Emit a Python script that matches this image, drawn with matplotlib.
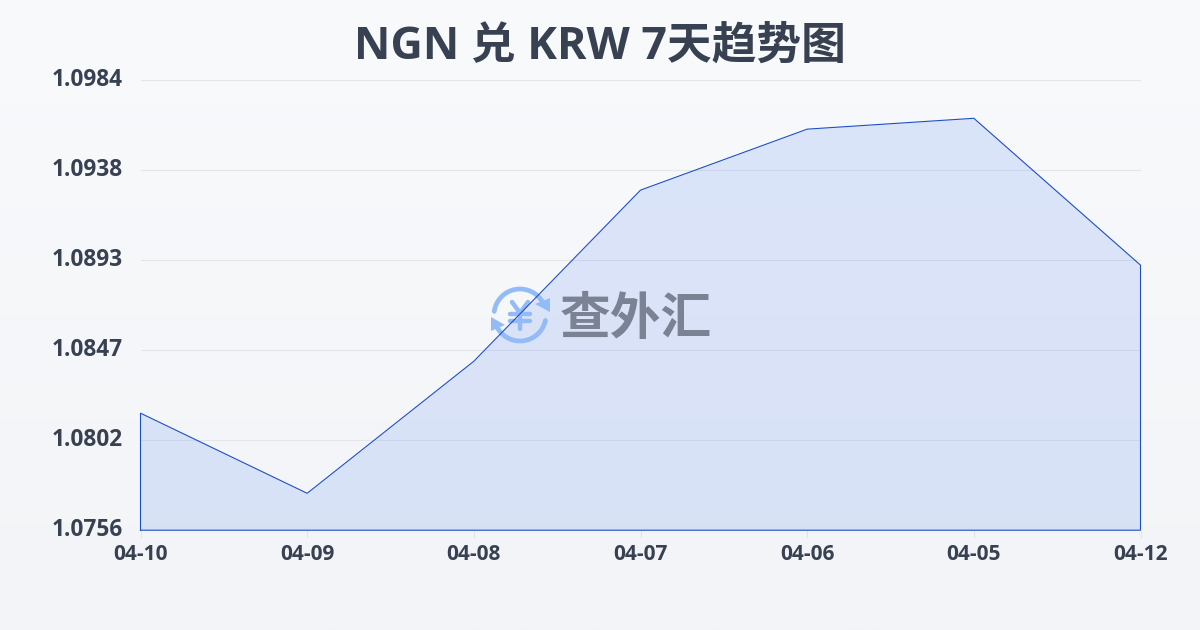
import matplotlib
matplotlib.use("Agg")
import matplotlib.pyplot as plt
from matplotlib.patches import Polygon
from matplotlib.transforms import Affine2D
import numpy as np

plt.rcParams['font.family'] = ['Open Sans', 'Noto Sans CJK SC', 'DejaVu Sans']

dates = ['04-10', '04-09', '04-08', '04-07', '04-06', '04-05', '04-12']
rates = [1.08153, 1.07747, 1.08416, 1.09283, 1.09592, 1.09647, 1.08903]
y_ticks = [1.0756, 1.08016, 1.08472, 1.08928, 1.09384, 1.0984]
y_labels = ['1.0756', '1.0802', '1.0847', '1.0893', '1.0938', '1.0984']
title = 'NGN 兑 KRW 7天趋势图'

W, H = 1200, 630
fig = plt.figure(figsize=(W / 100, H / 100), dpi=100)

# page background, light vertical gradient
bg = fig.add_axes([0, 0, 1, 1], zorder=0)
bg.axis('off')
c1 = np.array(matplotlib.colors.to_rgb('#f8fafc'))
c2 = np.array(matplotlib.colors.to_rgb('#f2f4f7'))
t = np.linspace(0, 1, 256)[:, None, None]
bg.imshow(c1 + (c2 - c1) * t, aspect='auto', extent=[0, 1, 0, 1])

ax = fig.add_axes([140.5 / W, (H - 530.2) / H, 1000 / W, 450 / H], zorder=1)
ax.patch.set_alpha(0)
x = np.arange(len(dates))
ax.set_xlim(0, len(dates) - 1)
ax.set_ylim(y_ticks[0], y_ticks[-1])

for s in ax.spines.values():
    s.set_visible(False)
ax.set_yticks(y_ticks)
ax.set_yticklabels(y_labels, fontsize=16.3, fontweight='bold', color='#374151')
ax.set_xticks(x)
ax.set_xticklabels(dates, fontsize=15, fontweight='bold', color='#374151')
ax.tick_params(axis='y', length=0, pad=13)
ax.tick_params(axis='x', length=6, width=0.8, color='#e1e5ea', pad=4)
for lab in ax.get_yticklabels():
    lab.set_verticalalignment('center')
ax.grid(axis='y', color='#e3e6eb', lw=0.8, zorder=1)
ax.set_axisbelow(True)

ax.fill_between(x, rates, y_ticks[0], color='#2563eb', alpha=0.13, lw=0, zorder=2)

# watermark, placed in pixels from the top left corner
px = Affine2D().scale(1, -1).translate(0, H)
logo = '#93bbf8'
cx, cy, r = 520, 315, 26
for a0, a1 in [(188, 335), (12, 155)]:
    a = np.radians(np.linspace(a0, a1, 60))
    ax.plot(cx + r * np.cos(a), cy + r * np.sin(a), color=logo, lw=3.4,
            solid_capstyle='round', transform=px, clip_on=False, zorder=3)
ax.add_patch(Polygon([(550, 298), (550, 312), (535, 304)], color=logo, lw=0,
                     transform=px, clip_on=False, zorder=3))
ax.add_patch(Polygon([(491, 317), (491, 331), (505, 325)], color=logo, lw=0,
                     transform=px, clip_on=False, zorder=3))
# yen sign from strokes, the font glyph comes out too thin
for xs, ys in [([512, 520, 528], [302, 313, 302]), ([510, 530], [314, 314]),
               ([510, 530], [321, 321]), ([520, 520], [313, 329])]:
    ax.plot(xs, ys, color=logo, lw=3.2, solid_capstyle='round', solid_joinstyle='round',
            transform=px, clip_on=False, zorder=3)
ax.text(636, 315, '查外汇', color='#7a8294', fontsize=36.5, fontweight='bold', ha='center',
        va='center_baseline', transform=px, zorder=3)

# outline goes round the whole area, base and sides too
ax.plot(np.r_[x[0], x, x[-1], x[0]], np.r_[y_ticks[0], rates, y_ticks[0], y_ticks[0]],
        color='#1f4fc4', lw=0.8, solid_joinstyle='miter', clip_on=False, zorder=4)

fig.text(600 / W, 1 - 47 / H, title, fontsize=32.2, fontweight='bold', color='#374151',
         ha='center', va='center')

fig.savefig('out.png', dpi=100)
